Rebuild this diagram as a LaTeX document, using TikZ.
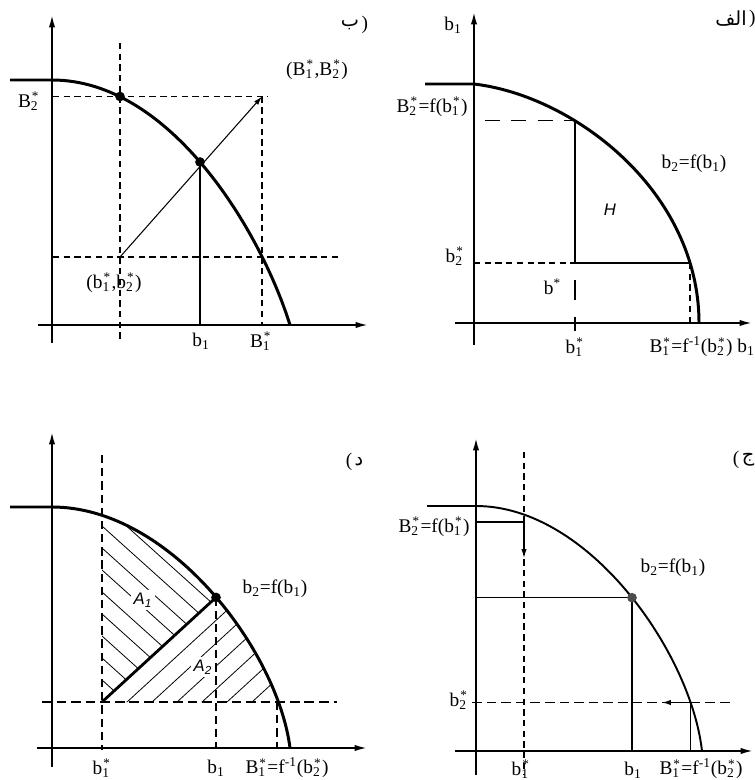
\documentclass[tikz,border=0pt]{standalone}
\usepackage{fontspec}
\setmainfont{Liberation Serif}
\setsansfont{Liberation Sans}
\newfontfamily\arabicfont[Script=Arabic]{DejaVu Sans}
\TeXXeTstate=1
\usetikzlibrary{arrows.meta,positioning}
% raised star and stacked sub/superscript
\newcommand{\st}{\raisebox{.34em}{\fontsize{7.5}{8}\selectfont*}}
\newcommand{\sbsp}[1]{\makebox[0pt][l]{\kern.6pt\st}\textsubscript{#1}\kern.8pt}
\tikzset{
  axis_ln/.style={line width=1pt,-{Latex[length=7pt,width=3.6pt]}},
  frontier/.style={line width=1.7pt},
  frontier_thin/.style={line width=1.1pt},
  guide/.style={line width=0.95pt,dash pattern=on 3.6pt off 2.5pt},
  guide_long/.style={line width=1pt,dash pattern=on 8.5pt off 6.5pt},
  guide_bold/.style={line width=1.3pt,dash pattern=on 4.7pt off 2.8pt},
  guide_thin/.style={line width=0.6pt,dash pattern=on 5.5pt off 2.8pt},
  solid_ln/.style={line width=0.7pt},
  small_arr/.style={solid_ln,-{Latex[length=5pt,width=3pt]}},
  dotpt/.style={circle,fill=black,inner sep=0pt,minimum size=5.5pt},
  hatch_ln/.style={line width=0.45pt},
  lbl/.style={font=\fontsize{11}{13}\selectfont,inner sep=1pt},
  area_lbl/.style={font=\sffamily\itshape\fontsize{9.5}{10}\selectfont,
    inner sep=1.5pt,fill=white},
  tag/.style={font=\arabicfont\fontsize{11}{13}\selectfont,inner sep=0pt},
  tag_par/.style={font=\fontsize{11}{13}\selectfont,inner sep=0pt},
}
\begin{document}
\begin{tikzpicture}[x=0.02cm,y=-0.02cm]
  \useasboundingbox (0,0) rectangle (754,780);

  % ================= panel b (top left) =================
  \draw[axis_ln] (52,343) -- (52,15);
  \draw[axis_ln] (38,325) -- (368,325);
  \draw[frontier] (10,80) -- (52,80) .. controls (171,80) and (261,232) .. (290,325);
  \coordinate (b_o) at (52,325);
  \coordinate (b_A) at (120,96.5);   % (b1*,B2*)
  \coordinate (b_B) at (200,162);    % (b1,b2)
  \coordinate (b_C) at (262,257);    % (B1*,b2*)
  \coordinate (b_S) at (b_A |- b_C);
  \coordinate (b_T) at (b_C |- b_A);
  \draw[guide] (120,43) -- (120,343);
  \draw[guide] (53,96.5) -- (268,96.5);
  \draw[guide] (b_T) -- (b_T |- b_o);
  \draw[guide] (53,257) -- (338,257);
  \draw[solid_ln] (b_B) -- (b_B |- b_o);
  \draw[small_arr,line width=0.6pt] (b_S) -- (b_T);
  \node[dotpt] (b_dA) at (b_A) {};
  \node[dotpt] (b_dB) at (b_B) {};
  \node[lbl] (b_l1) at (29,101) {B\sbsp{2}};
  \node[lbl] (b_l2) at (317,70) {(B\sbsp{1},B\sbsp{2})};
  \node[lbl] (b_l3) at (114,283) {(b\sbsp{1},b\sbsp{2})};
  \node[lbl] (b_l4) at (201,341) {b\textsubscript{1}};
  \node[lbl] (b_l5) at (261,341) {B\sbsp{1}};
  \node[tag] (b_tag) at (350,25) {ب};
  \node[tag_par,right=1pt of b_tag] (b_par) {)};

  % ================= panel alef (top right) =================
  \draw[axis_ln] (474,345) -- (474,12);
  \draw[axis_ln] (455,323) -- (752,323);
  \draw[frontier] (425,84) -- (474,84) .. controls (575,96) and (699,192) .. (699,323);
  \coordinate (a_o) at (474,323);
  \coordinate (a_A) at (575,120.6);  % (b1*,B2*)
  \coordinate (a_B) at (690,263);    % (B1*,b2*)
  \coordinate (a_S) at (a_A |- a_B);
  \draw[guide_long] (485,120.6) -- (a_A);
  \draw[solid_ln,line width=0.9pt] (a_A) -- (a_S) -- (a_B);
  \draw[guide] (a_o |- a_S) -- (a_S);
  \draw[guide] (a_B) -- (a_B |- a_o);
  \draw[line width=1pt,dash pattern=on 11.3pt off 9.6pt] (575,280) -- (575,331);
  \node[lbl] (a_l1) at (453,25) {b\textsubscript{1}};
  \node[lbl] (a_l2) at (432,107) {B\sbsp{2}=f(b\sbsp{1})};
  \node[lbl] (a_l3) at (694,164) {b\textsubscript{2}=f(b\textsubscript{1})};
  \node[area_lbl,fill=none] (a_H) at (610,210) {H};
  \node[lbl] (a_l4) at (455,256) {b\sbsp{2}};
  \node[lbl] (a_l5) at (552,287) {b\st};
  \node[lbl] (a_l6) at (575,347) {b\sbsp{1}};
  \node[lbl] (a_l7) at (691,347) {B\sbsp{1}=f\textsuperscript{-1}(b\sbsp{2})};
  \node[lbl] (a_l8) at (746,347) {b\textsubscript{1}};
  \node[tag] (a_tag) at (731,19) {الف};
  \node[tag_par,right=1pt of a_tag] (a_par) {)};

  % ================= panel dal (bottom left) =================
  \coordinate (d_o) at (52,748);
  \coordinate (d_S) at (102,702);    % (b1*,b2*)
  \coordinate (d_A) at (216,597.4);  % (b1,b2)
  \coordinate (d_C) at (277,702);    % (B1*,b2*)
  % --- hatching ---
  \begin{scope}
    \clip (52,748) -- (52,507) .. controls (171,507) and (278,652) .. (290,748) -- cycle;
    \begin{scope}
      \clip (d_S) -- (330,492.8) -- (330,300) -- (102,300) -- cycle;
      \foreach \k in {1,...,16}
        \draw[hatch_ln] (62,{666-22*\k}) -- ++(300,270);
    \end{scope}
    \begin{scope}
      \clip (d_S) -- (330,492.8) -- (330,702) -- cycle;
      \foreach \k in {1,...,8}
        \draw[hatch_ln] ({92+25*\k},711.2) -- ++(250,-229.4);
    \end{scope}
  \end{scope}
  \draw[axis_ln] (52,767) -- (52,432);
  \draw[axis_ln] (37,748) -- (367,748);
  \draw[frontier] (10,507) -- (52,507) .. controls (171,507) and (278,652) .. (290,748);
  \draw[guide_bold] (102,455) -- (102,750);
  \draw[guide_thin] (42,702) -- (337,702);
  \draw[guide_bold] (d_A) -- (d_A |- d_o);
  \draw[guide_bold] (d_C) -- (d_C |- d_o);
  \draw[line width=1.6pt] (d_S) -- (d_A);
  \node[dotpt] (d_dA) at (d_A) {};
  \node[area_lbl] (d_A1) at (143,600) {A\textsubscript{1}};
  \node[area_lbl] (d_A2) at (203,667) {A\textsubscript{2}};
  \node[lbl] (d_l1) at (275,589) {b\textsubscript{2}=f(b\textsubscript{1})};
  \node[lbl] (d_l2) at (102,768) {b\sbsp{1}};
  \node[lbl] (d_l3) at (216,768) {b\textsubscript{1}};
  \node[lbl] (d_l4) at (287,768) {B\sbsp{1}=f\textsuperscript{-1}(b\sbsp{2})};
  \node[tag] (d_tag) at (359,462) {د};
  \node[tag_par,left=1pt of d_tag] (d_par) {(};

  % ================= panel jim (bottom right) =================
  \draw[axis_ln] (476,775) -- (476,438);
  \draw[axis_ln] (455,751) -- (753,751);
  \draw[frontier_thin] (427,506) -- (476,506) .. controls (589,506) and (691,653) .. (702,751);
  \coordinate (j_o) at (476,751);
  \coordinate (j_A) at (632,597.7);  % (b1,b2)
  \coordinate (j_C) at (690.6,702.5);% (B1*,b2*)
  \draw[guide] (524,452) -- (524,775);
  \draw[small_arr] (476,522) -- (524,522) -- (524,558);
  \draw[solid_ln] (j_o |- j_A) -- (j_A) -- (j_A |- j_o);
  \draw[guide_thin,line width=0.75pt] (472,702.5) -- (732,702.5);
  \draw[solid_ln] (j_C) -- (j_C |- j_o);
  \draw[small_arr] (j_C) -- (662,702.5);
  \node[dotpt,fill=black!70] (j_dA) at (j_A) {};
  \node[lbl] (j_l1) at (434,527) {B\sbsp{2}=f(b\sbsp{1})};
  \node[lbl] (j_l2) at (673,568) {b\textsubscript{2}=f(b\textsubscript{1})};
  \node[lbl] (j_l3) at (459,700) {b\sbsp{2}};
  \node[lbl] (j_l4) at (521,769) {b\sbsp{1}};
  \node[lbl] (j_l5) at (633,770) {b\textsubscript{1}};
  \node[lbl] (j_l6) at (701,769) {B\sbsp{1}=f\textsuperscript{-1}(b\sbsp{2})};
  \node[tag] (j_tag) at (748,460) {ج};
  \node[tag_par,left=1pt of j_tag] (j_par) {(};
\end{tikzpicture}
\end{document}
